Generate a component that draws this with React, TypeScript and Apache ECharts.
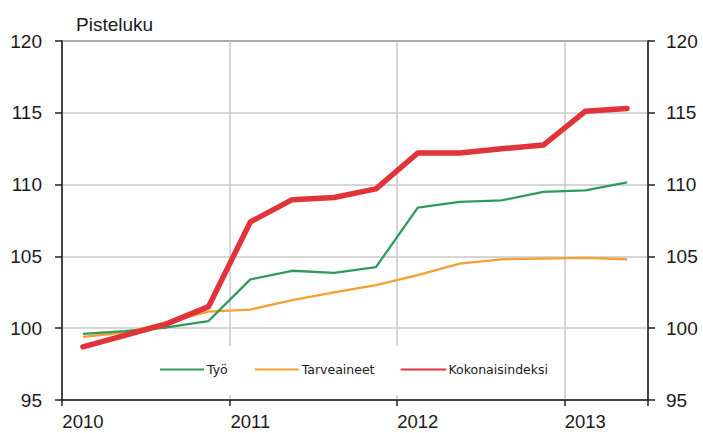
import React, { useEffect, useRef } from "react";
import * as echarts from "echarts";

const categories = [
  "2010", "2010Q2", "2010Q3", "2010Q4",
  "2011", "2011Q2", "2011Q3", "2011Q4",
  "2012", "2012Q2", "2012Q3", "2012Q4",
  "2013", "2013Q2",
];
const tyo = [99.6, 99.8, 100.05, 100.5, 103.4, 104.0, 103.85, 104.25, 108.4, 108.8, 108.9, 109.5, 109.6, 110.15];
const tarveaineet = [99.4, 99.7, 100.4, 101.15, 101.3, 101.95, 102.5, 103.0, 103.7, 104.5, 104.8, 104.85, 104.9, 104.8];
const kokonaisindeksi = [98.7, 99.5, 100.3, 101.5, 107.4, 108.95, 109.1, 109.7, 112.2, 112.2, 112.5, 112.75, 115.1, 115.3];
const yTicks = { min: 95, max: 120, interval: 5 };
const yTitle = "Pisteluku";

export default function App() {
  const ref = useRef<HTMLDivElement>(null);
  useEffect(() => {
    if (!ref.current) return;
    const chart = echarts.init(ref.current, undefined, { renderer: "svg" });
    const numFont = { fontFamily: "Liberation Sans, Arial, sans-serif", fontSize: 19, color: "#1a1a1a" };
    const yAxisBase = {
      type: "value" as const,
      min: yTicks.min,
      max: yTicks.max,
      interval: yTicks.interval,
      axisLine: { show: true, lineStyle: { color: "#222", width: 1.5 } },
      axisTick: { show: true, length: 7, lineStyle: { color: "#222", width: 1.5 } },
    };
    chart.setOption({
      animation: false,
      backgroundColor: "#fff",
      grid: {
        left: 62, right: 55, top: 41, bottom: 33,
        show: true, borderColor: "#222", borderWidth: 1.5, backgroundColor: "transparent",
      },
      graphic: [
        {
          type: "text", left: 76, top: 15,
          style: { text: yTitle, font: "19px 'Liberation Sans', Arial, sans-serif", fill: "#1a1a1a" },
        },
      ],
      legend: {
        left: 145, top: 346,
        padding: [17, 16, 19, 14],
        backgroundColor: "#fff",
        itemWidth: 44, itemHeight: 14, itemGap: 26,
        itemStyle: { opacity: 0, borderWidth: 0 },
        textStyle: { fontFamily: "DejaVu Sans, sans-serif", fontSize: 12.5, color: "#1a1a1a", padding: [0, 0, 0, -2] },
        data: ["Työ", "Tarveaineet", "Kokonaisindeksi"],
      },
      xAxis: {
        type: "category",
        data: categories,
        boundaryGap: true,
        axisLine: { lineStyle: { color: "#222", width: 1.5 } },
        axisTick: { show: true, interval: 3, length: 6, inside: false, lineStyle: { color: "#222", width: 1.5 } },
        axisLabel: {
          interval: 3, margin: 12, ...numFont, fontSize: 18.5,
          formatter: (v: string) => v.slice(0, 4),
        },
        splitLine: { show: true, interval: 3, lineStyle: { color: "#c8c8c8", width: 1.5 } },
      },
      yAxis: [
        {
          ...yAxisBase, position: "left",
          axisLabel: { ...numFont, margin: 20 },
          splitLine: { show: true, lineStyle: { color: "#c8c8c8", width: 1.5 } },
        },
        {
          ...yAxisBase, position: "right",
          axisLabel: { ...numFont, margin: 18 },
          splitLine: { show: false },
        },
      ],
      series: [
        {
          name: "Työ", type: "line", data: tyo, symbol: "none",
          lineStyle: { color: "#2e9a5c", width: 2.3 }, itemStyle: { color: "#2e9a5c" }, z: 3,
        },
        {
          name: "Tarveaineet", type: "line", data: tarveaineet, symbol: "none",
          lineStyle: { color: "#f5a030", width: 2.3 }, itemStyle: { color: "#f5a030" }, z: 2,
        },
        {
          name: "Kokonaisindeksi", type: "line", data: kokonaisindeksi, symbol: "none",
          lineStyle: { color: "#e0343a", width: 5.5, cap: "round", join: "round" }, itemStyle: { color: "#e0343a" }, z: 4,
        },
      ],
    });
    return () => chart.dispose();
  }, []);
  return <div ref={ref} style={{ width: 703, height: 433, position: "absolute", left: 0, top: 0 }} />;
}
